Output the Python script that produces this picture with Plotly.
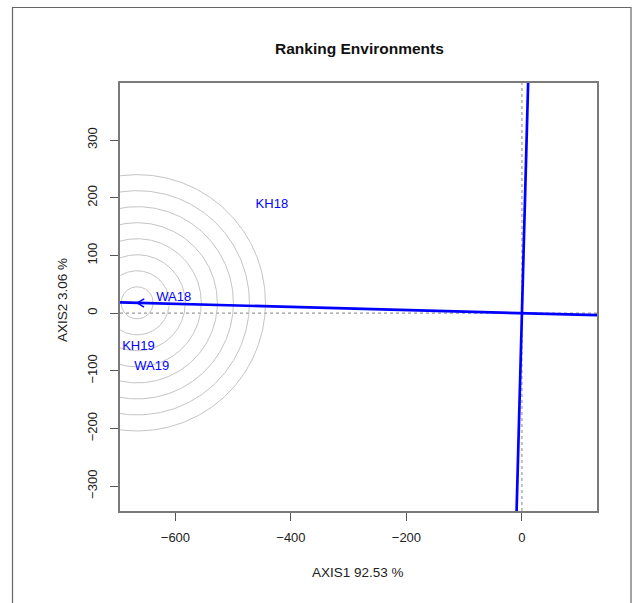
import numpy as np
import plotly.graph_objects as go

# ---- data ----
env_names = ["KH18", "WA18", "KH19", "WA19"]
env_x = [-433, -603, -664, -641]
env_y = [188, 26, -58, -93]

x_range = [-696, 130]
y_range = [-343, 399]
x_ticks = [-600, -400, -200, 0]
y_ticks = [-300, -200, -100, 0, 100, 200, 300]
n_circles = 8

title_text = "Ranking Environments"
x_title = "AXIS1 92.53 %"
y_title = "AXIS2 3.06 %"

# ---- derived geometry (GGE "rank environments" logic) ----
ex = np.array(env_x, float)
ey = np.array(env_y, float)
med1, med2 = ex.mean(), ey.mean()
slope = med2 / med1
mod = np.max(np.sqrt(ex**2 + ey**2))
xc = np.sign(med1) * np.sqrt(mod**2 / (1 + slope**2))
yc = slope * xc
step = mod / 24.0

BLUE = "#0000FF"
FONT = "Liberation Sans, Arial"
fig = go.Figure()

# dotted reference axes
fig.add_trace(go.Scatter(x=x_range, y=[0, 0], mode="lines",
                         line=dict(color="#9a9a9a", width=1.2, dash="dot"),
                         hoverinfo="skip", showlegend=False))
fig.add_trace(go.Scatter(x=[0, 0], y=y_range, mode="lines",
                         line=dict(color="#9a9a9a", width=1.2, dash="dot"),
                         hoverinfo="skip", showlegend=False))

# concentric circles around ideal environment
theta = np.linspace(0, 2 * np.pi, 361)
for k in range(1, n_circles + 1):
    r = step * k
    fig.add_trace(go.Scatter(x=xc + r * np.cos(theta), y=yc + r * np.sin(theta),
                             mode="lines", line=dict(color="#c4c4c4", width=1),
                             hoverinfo="skip", showlegend=False))

# AEC abscissa line and its perpendicular through origin
fig.add_trace(go.Scatter(x=x_range, y=[slope * x_range[0], slope * x_range[1]],
                         mode="lines", line=dict(color=BLUE, width=2.7),
                         hoverinfo="skip", showlegend=False))
fig.add_trace(go.Scatter(x=[-slope * y_range[0], -slope * y_range[1]], y=y_range,
                         mode="lines", line=dict(color=BLUE, width=2.7),
                         hoverinfo="skip", showlegend=False))

# arrow head at ideal point
d = np.array([xc, yc]) / np.hypot(xc, yc)
L = 14.0
ang = np.deg2rad(30)
def rot(v, a):
    return np.array([v[0] * np.cos(a) - v[1] * np.sin(a), v[0] * np.sin(a) + v[1] * np.cos(a)])
w1 = np.array([xc, yc]) - L * rot(d, ang)
w2 = np.array([xc, yc]) - L * rot(d, -ang)
fig.add_trace(go.Scatter(x=[w1[0], xc, w2[0]], y=[w1[1], yc, w2[1]], mode="lines",
                         line=dict(color=BLUE, width=1.5),
                         hoverinfo="skip", showlegend=False))

# environment labels
fig.add_trace(go.Scatter(x=env_x, y=env_y, mode="text", text=env_names,
                         textposition="middle center",
                         textfont=dict(color=BLUE, size=13, family=FONT),
                         hoverinfo="skip", showlegend=False))

axis_common = dict(showgrid=False, zeroline=False, ticks="outside", ticklen=8,
                   tickcolor="#555", tickwidth=1.2, showline=True, mirror=True,
                   linecolor="#7a7a7a", linewidth=1.5,
                   tickfont=dict(size=13, color="#222", family=FONT))

fig.update_layout(
    width=637, height=603, autosize=False,
    margin=dict(l=120, r=40, t=83, b=92),
    plot_bgcolor="white", paper_bgcolor="white",
    xaxis=dict(range=x_range, tickvals=x_ticks, ticklabelstandoff=6, **axis_common),
    yaxis=dict(range=y_range, tickvals=y_ticks, tickangle=-90, ticklabelstandoff=8, **axis_common),
    annotations=[
        dict(text="<b>" + title_text + "</b>", xref="paper", yref="paper",
             x=(359 - 120) / 477, y=(511 - 49) / 428, showarrow=False,
             xanchor="center", yanchor="middle",
             font=dict(size=15.5, color="#111", family=FONT)),
        dict(text=x_title, xref="paper", yref="paper",
             x=(358 - 120) / 477, y=(511 - 572) / 428, showarrow=False,
             xanchor="center", yanchor="middle",
             font=dict(size=13.5, color="#222", family=FONT)),
        dict(text=y_title, xref="paper", yref="paper",
             x=(62 - 120) / 477, y=(511 - 300) / 428, showarrow=False, textangle=-90,
             xanchor="center", yanchor="middle",
             font=dict(size=13.5, color="#222", family=FONT)),
    ],
    shapes=[
        dict(type="rect", xref="paper", yref="paper",
             x0=(12.5 - 120) / 477, x1=(631 - 120) / 477,
             y0=(511 - 610) / 428, y1=(511 - 7.5) / 428,
             line=dict(color="#666", width=1.2), layer="below"),
    ],
)

fig.write_html("out.html")
